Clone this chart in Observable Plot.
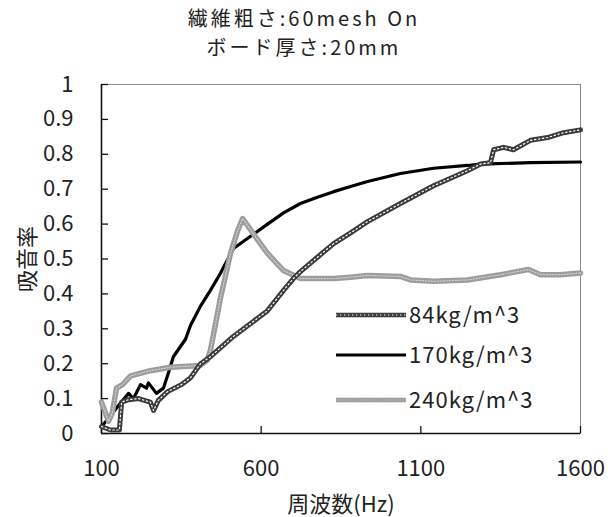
<!DOCTYPE html>
<html>
<head>
<meta charset="utf-8">
<script src="https://cdn.jsdelivr.net/npm/d3@7"></script>
<script src="https://cdn.jsdelivr.net/npm/@observablehq/plot@0.6"></script>
<style>
  html, body { margin: 0; padding: 0; background: #fff; }
  body { width: 608px; height: 517px; overflow: hidden; font-family: "Noto Sans CJK JP", sans-serif; }
  #title { width: 608px; height: 62px; text-align: center; font-size: 20px; color: #222; letter-spacing: 3px; }
  #title div { height: 29px; line-height: 29px; white-space: nowrap; }
  #t1 { margin-top: 3px; }
  #chart svg { display: block; }
</style>
</head>
<body>
<div id="title"><div id="t1">繊維粗さ:60mesh On</div><div id="t2">ボード厚さ:20mm</div></div>
<div id="chart"></div>
<script>
// ---- data ----
const seriesNames = ["84kg/m^3", "170kg/m^3", "240kg/m^3"];

const freq84 = [100, 128, 156, 163, 185, 216, 253, 263, 278, 307, 350, 379, 410, 441, 513, 567, 620, 670, 701, 723, 776, 827, 880, 933, 1036, 1140, 1246, 1287, 1318, 1328, 1359, 1390, 1443, 1497, 1547, 1600];
const abs84  = [0.02, 0.01, 0.01, 0.09, 0.097, 0.10, 0.09, 0.066, 0.095, 0.12, 0.14, 0.16, 0.20, 0.22, 0.278, 0.315, 0.352, 0.41, 0.444, 0.464, 0.505, 0.544, 0.575, 0.607, 0.659, 0.71, 0.753, 0.772, 0.776, 0.813, 0.82, 0.813, 0.84, 0.848, 0.862, 0.87];

const freq170 = [100, 128, 153, 185, 200, 222, 241, 247, 272, 294, 310, 325, 363, 379, 410, 441, 473, 513, 567, 620, 670, 723, 776, 827, 880, 933, 1036, 1140, 1246, 1287, 1443, 1600];
const abs170  = [0.02, 0.05, 0.08, 0.115, 0.10, 0.14, 0.13, 0.145, 0.115, 0.13, 0.175, 0.22, 0.27, 0.31, 0.365, 0.41, 0.46, 0.53, 0.565, 0.60, 0.632, 0.659, 0.677, 0.693, 0.708, 0.722, 0.745, 0.76, 0.768, 0.772, 0.776, 0.778];

const freq240 = [100, 122, 134, 147, 166, 191, 253, 316, 410, 431, 441, 473, 504, 526, 542, 589, 620, 670, 723, 776, 827, 880, 933, 1036, 1068, 1140, 1246, 1350, 1437, 1475, 1537, 1600];
const abs240  = [0.09, 0.035, 0.06, 0.13, 0.14, 0.165, 0.18, 0.19, 0.195, 0.21, 0.238, 0.39, 0.516, 0.58, 0.616, 0.555, 0.516, 0.467, 0.444, 0.444, 0.444, 0.448, 0.453, 0.45, 0.44, 0.436, 0.44, 0.455, 0.47, 0.455, 0.455, 0.46];

const xTicks = [100, 600, 1100, 1600];
const yTicks = [0, 0.1, 0.2, 0.3, 0.4, 0.5, 0.6, 0.7, 0.8, 0.9, 1];
const yTickLabels = ["0", "0.1", "0.2", "0.3", "0.4", "0.5", "0.6", "0.7", "0.8", "0.9", "1"];
const xLabel = "周波数(Hz)";
const yLabel = "吸音率";

// ---- build tables ----
const d84 = freq84.map((f, i) => ({f, v: abs84[i]}));
const d170 = freq170.map((f, i) => ({f, v: abs170[i]}));
const d240 = freq240.map((f, i) => ({f, v: abs240[i]}));

const font = "'Noto Sans CJK JP', sans-serif";
const W = 608, H = 455, ML = 101, MR = 28, MT = 19, MB = 87;
const tickLen = 7;

const chart = Plot.plot({
  width: W,
  height: H,
  marginLeft: ML,
  marginRight: MR,
  marginTop: MT,
  marginBottom: MB,
  style: {fontFamily: font, fontSize: "22px", color: "#222", background: "#fff", overflow: "visible"},
  x: {domain: [100, 1600]},
  y: {domain: [0, 1]},
  marks: [
    Plot.frame({stroke: "#8a8a8a", strokeWidth: 1}),
    Plot.axisX({ticks: xTicks, tickSize: 0, tickPadding: 27, tickFormat: (d) => String(d),
      label: xLabel, labelAnchor: "center", labelOffset: 78, labelArrow: "none", fontSize: 22}),
    Plot.axisY({ticks: yTicks, tickSize: 0, tickPadding: 28,
      tickFormat: (d) => yTickLabels[yTicks.indexOf(d)],
      label: yLabel, labelAnchor: "center", labelOffset: 82, labelArrow: "none", fontSize: 22}),
    // inward tick marks
    Plot.tickX(xTicks, {x: (d) => d, stroke: "#111", strokeWidth: 1.3, insetTop: H - MT - MB - tickLen}),
    Plot.tickY(yTicks, {y: (d) => d, stroke: "#111", strokeWidth: 1.3, insetRight: W - ML - MR - tickLen}),
    Plot.ruleX([100], {stroke: "#111", strokeWidth: 1.6}),
    Plot.ruleY([0], {stroke: "#111", strokeWidth: 1.6}),
    // 170 black solid
    Plot.line(d170, {x: "f", y: "v", stroke: "#000", strokeWidth: 3.2}),
    // 240 light gray textured
    Plot.line(d240, {x: "f", y: "v", stroke: "#9c9c9c", strokeWidth: 5.5}),
    Plot.line(d240, {x: "f", y: "v", stroke: "#d0d0d0", strokeWidth: 1.2, strokeDasharray: "1.2,1.8"}),
    // 84 dark ring chain
    Plot.line(d84, {x: "f", y: "v", stroke: "#3a3a3a", strokeWidth: 5}),
    Plot.line(d84, {x: "f", y: "v", stroke: "#ffffff", strokeWidth: 1.2, strokeDasharray: "1.4,2.6"})
  ]
});

document.getElementById("chart").appendChild(chart);

// ---- legend (inside plot area) ----
const svg = d3.select(chart);
const lg = svg.append("g").attr("font-family", font).attr("font-size", 22).attr("fill", "#222").attr("text-anchor", "start");
const legendRows = [
  {name: seriesNames[0], y: 250, draw: (g) => {
    g.append("line").attr("x1", 336).attr("x2", 406).attr("stroke", "#3a3a3a").attr("stroke-width", 4.5);
    g.append("line").attr("x1", 336).attr("x2", 406).attr("stroke", "#fff").attr("stroke-width", 1.2).attr("stroke-dasharray", "1.4,2.6");
  }},
  {name: seriesNames[1], y: 290, draw: (g) => {
    g.append("line").attr("x1", 336).attr("x2", 406).attr("stroke", "#000").attr("stroke-width", 3.2);
  }},
  {name: seriesNames[2], y: 335, draw: (g) => {
    g.append("line").attr("x1", 336).attr("x2", 406).attr("stroke", "#9c9c9c").attr("stroke-width", 4.5);
    g.append("line").attr("x1", 336).attr("x2", 406).attr("stroke", "#d0d0d0").attr("stroke-width", 1).attr("stroke-dasharray", "1.2,1.8");
  }}
];
legendRows.forEach((r) => {
  const g = lg.append("g").attr("transform", `translate(0,${r.y})`);
  r.draw(g);
  g.append("text").attr("x", 409).attr("y", 0).attr("dy", "0.36em").attr("letter-spacing", "1px").text(r.name);
});
</script>
</body>
</html>
